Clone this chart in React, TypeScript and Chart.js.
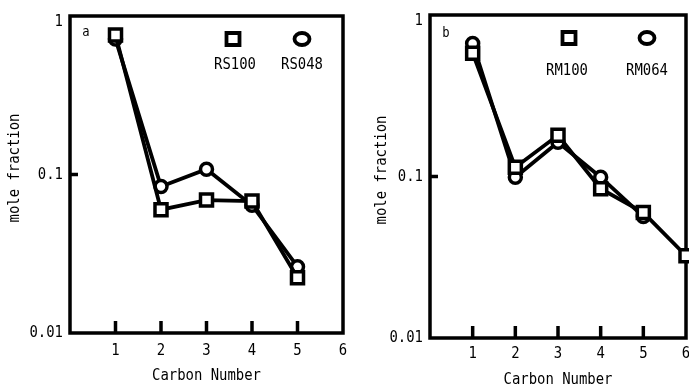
import { useEffect, useRef } from 'react';
import { Chart, registerables } from 'chart.js';

Chart.register(...registerables);

// Carbon number axis and mole-fraction decades
const carbonNumbers = [1, 2, 3, 4, 5, 6];
const xTickValues = [1, 2, 3, 4, 5, 6];
const yTickValues = [0.01, 0.1, 1];
const yTickLabels = ['0.01', '0.1', '1'];

// Panel a: RS samples
const rs100 = [0.76, 0.06, 0.069, 0.068, 0.0223];
const rs048 = [0.715, 0.084, 0.108, 0.064, 0.0262];

// Panel b: RM samples
const rm100 = [0.58, 0.114, 0.18, 0.084, 0.0598, 0.0323];
const rm064 = [0.667, 0.099, 0.163, 0.099, 0.0565];

const FONT = '"DejaVu Sans Mono", monospace';
const FONT_SIZE = 16;
const CONDENSE = 0.87;
const INK = '#000';

type Series = { label: string; values: number[]; marker: 'rect' | 'circle' };

type Panel = {
  letter: string;
  series: Series[];
  width: number;
  left: number;
  yAxisWidth: number;
  xAxisHeight: number;
  padding: { left: number; right: number; top: number; bottom: number };
  letterPos: [number, number];
  legend: { marker: [number, number]; text: [number, number] }[];
  yTitleX: number;
  yTitleY: number;
  xTitleOffset: number;
  xLabelOffset: number;
};

const panels: Panel[] = [
  {
    letter: 'a',
    series: [
      { label: 'RS100', values: rs100, marker: 'rect' },
      { label: 'RS048', values: rs048, marker: 'circle' },
    ],
    width: 350,
    left: 0,
    yAxisWidth: 70,
    xAxisHeight: 53,
    padding: { left: 0, right: 7, top: 16, bottom: 0 },
    letterPos: [86, 32],
    legend: [
      { marker: [233, 39], text: [235, 65] },
      { marker: [302, 39], text: [302, 65] },
    ],
    yTitleX: 15,
    yTitleY: 168,
    xTitleOffset: 43,
    xLabelOffset: 18,
  },
  {
    letter: 'b',
    series: [
      { label: 'RM100', values: rm100, marker: 'rect' },
      { label: 'RM064', values: rm064, marker: 'circle' },
    ],
    width: 339,
    left: 350,
    yAxisWidth: 80,
    xAxisHeight: 48,
    padding: { left: 0, right: 3, top: 15, bottom: 0 },
    letterPos: [96, 33],
    legend: [
      { marker: [219, 38], text: [217, 71] },
      { marker: [297, 38], text: [297, 71] },
    ],
    yTitleX: 32,
    yTitleY: 170,
    xTitleOffset: 42,
    xLabelOffset: 16,
  },
];

// Narrow typewriter-style text: a monospace face squeezed horizontally
function drawText(
  ctx: CanvasRenderingContext2D,
  text: string,
  x: number,
  y: number,
  align: CanvasTextAlign = 'center',
  rotate = 0,
  size = FONT_SIZE,
) {
  ctx.save();
  ctx.translate(x, y);
  if (rotate) ctx.rotate(rotate);
  ctx.scale(CONDENSE, 1);
  ctx.fillStyle = INK;
  ctx.font = `${size}px ${FONT}`;
  ctx.textAlign = align;
  ctx.textBaseline = 'middle';
  ctx.fillText(text, 0, 0);
  ctx.restore();
}

function drawMarker(ctx: CanvasRenderingContext2D, kind: 'rect' | 'circle', x: number, y: number) {
  ctx.save();
  ctx.fillStyle = '#fff';
  ctx.strokeStyle = INK;
  ctx.lineWidth = 3.8;
  ctx.beginPath();
  if (kind === 'rect') {
    ctx.rect(x - 6.5, y - 6, 13, 12);
  } else {
    ctx.ellipse(x, y, 7.5, 6, 0, 0, Math.PI * 2);
  }
  ctx.fill();
  ctx.stroke();
  ctx.restore();
}

const framePlugin = {
  id: 'frame',
  beforeDatasetsDraw(chart: any, _args: any, opts: any) {
    const { ctx, chartArea } = chart;
    const { left, right, top, bottom } = chartArea;
    const x = chart.scales.x;
    const y = chart.scales.y;
    ctx.save();
    ctx.strokeStyle = INK;
    ctx.lineWidth = 3.5;
    ctx.strokeRect(left, top, right - left, bottom - top);
    ctx.beginPath();
    for (const v of xTickValues) {
      if (v >= x.max) continue;
      const px = x.getPixelForValue(v);
      ctx.moveTo(px, bottom);
      ctx.lineTo(px, bottom - 12);
    }
    for (const v of yTickValues) {
      if (v <= y.min || v >= y.max) continue;
      const py = y.getPixelForValue(v);
      ctx.moveTo(left, py);
      ctx.lineTo(left + 8, py);
    }
    ctx.stroke();
    ctx.restore();

    // tick labels
    for (const v of xTickValues) {
      drawText(ctx, String(v), x.getPixelForValue(v), bottom + opts.xLabelOffset);
    }
    yTickValues.forEach((v, i) => {
      drawText(ctx, yTickLabels[i], left - 7, y.getPixelForValue(v) + (v >= y.max ? 6 : 0), 'right');
    });

    // axis titles
    drawText(ctx, 'Carbon Number', (left + right) / 2, bottom + opts.xTitleOffset);
    drawText(ctx, 'mole fraction', opts.yTitleX, opts.yTitleY, 'center', -Math.PI / 2);

    // panel letter
    drawText(ctx, opts.letter, opts.letterPos[0], opts.letterPos[1], 'center', 0, 14);
  },
  afterDraw(chart: any, _args: any, opts: any) {
    const { ctx } = chart;
    chart.data.datasets.forEach((ds: any, i: number) => {
      const item = opts.legend[i];
      if (!item) return;
      drawMarker(ctx, ds.pointStyle === 'rect' ? 'rect' : 'circle', item.marker[0], item.marker[1]);
      drawText(ctx, ds.label, item.text[0], item.text[1]);
    });
  },
};

function PanelChart({ panel }: { panel: Panel }) {
  const ref = useRef<HTMLCanvasElement>(null);

  useEffect(() => {
    const canvas = ref.current;
    if (!canvas) return;
    const chart = new Chart(canvas, {
      type: 'line',
      data: {
        datasets: panel.series.map((s) => ({
          label: s.label,
          data: s.values.map((v, i) => ({ x: carbonNumbers[i], y: v })),
          borderColor: INK,
          borderWidth: 3.8,
          backgroundColor: '#fff',
          pointBackgroundColor: '#fff',
          pointBorderColor: INK,
          pointBorderWidth: 3.5,
          pointStyle: s.marker,
          pointRadius: s.marker === 'rect' ? 8.5 : 6,
          tension: 0,
          clip: false as any,
        })),
      },
      options: {
        animation: false,
        responsive: false,
        devicePixelRatio: 1,
        layout: { padding: panel.padding, autoPadding: false },
        events: [],
        plugins: {
          legend: { display: false },
          tooltip: { enabled: false },
          frame: {
            letter: panel.letter,
            letterPos: panel.letterPos,
            legend: panel.legend,
            yTitleX: panel.yTitleX,
            yTitleY: panel.yTitleY,
            xTitleOffset: panel.xTitleOffset,
            xLabelOffset: panel.xLabelOffset,
          },
        } as any,
        scales: {
          x: {
            type: 'linear',
            min: 0,
            max: 6,
            grid: { display: false },
            border: { display: false },
            ticks: { display: false },
            afterFit: (scale: any) => {
              scale.height = panel.xAxisHeight;
            },
          },
          y: {
            type: 'logarithmic',
            min: 0.01,
            max: 1,
            grid: { display: false },
            border: { display: false },
            ticks: { display: false },
            afterFit: (scale: any) => {
              scale.width = panel.yAxisWidth;
            },
          },
        },
      },
      plugins: [framePlugin],
    });
    return () => chart.destroy();
  }, [panel]);

  return (
    <canvas
      ref={ref}
      width={panel.width}
      height={386}
      style={{ position: 'absolute', left: panel.left, top: 0, width: panel.width, height: 386 }}
    />
  );
}

export default function App() {
  return (
    <div style={{ position: 'absolute', left: 0, top: 0, width: 689, height: 386, background: '#fff', overflow: 'hidden' }}>
      {panels.map((p) => (
        <PanelChart key={p.letter} panel={p} />
      ))}
    </div>
  );
}
